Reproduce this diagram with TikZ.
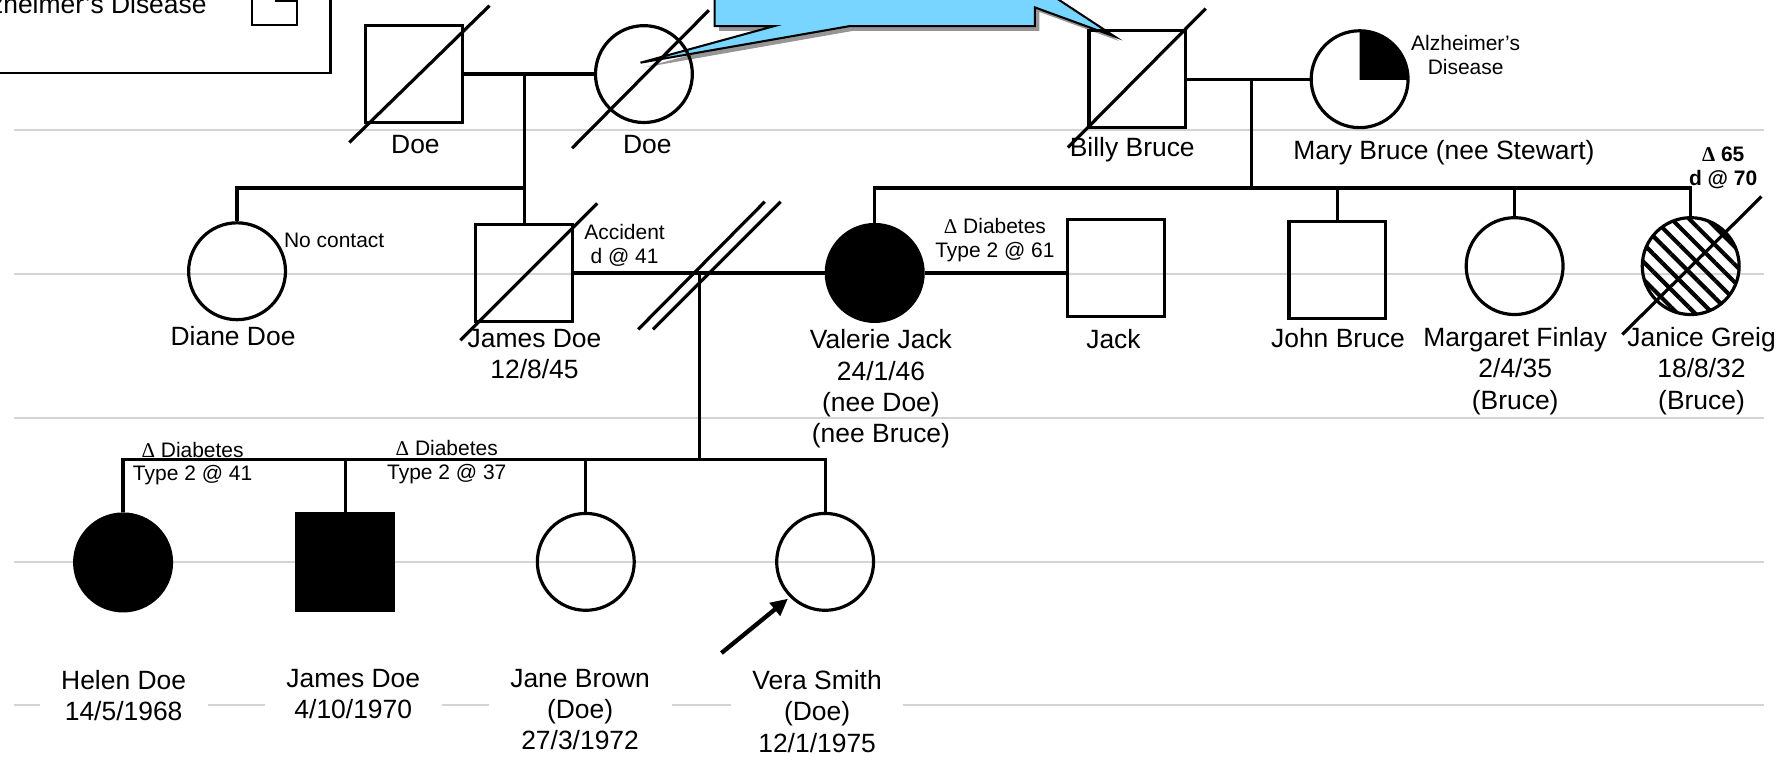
\documentclass[tikz,border=0pt]{standalone}
\usepackage{fontspec}
\setmainfont{Liberation Sans}
\newfontfamily\deltafont{Liberation Serif}
\usepackage{tikz}
\usetikzlibrary{calc, arrows.meta, patterns.meta}
\definecolor{pedgray}{RGB}{212,212,212}
\definecolor{pedblue}{RGB}{120,213,255}
\definecolor{pedshadow}{RGB}{150,150,150}
\newcommand{\namefont}{\fontsize{23.2}{27.5}\selectfont}
\newcommand{\notefont}{\fontsize{18.4}{21}\selectfont}
\newcommand{\dlt}{{\deltafont Δ}}
\tikzset{
  %% ---- people ----
  male/.style     = {rectangle, draw, line width=2.8pt, minimum size=85pt, inner sep=0pt},
  female/.style   = {circle, draw, line width=2.8pt, minimum size=85pt, inner sep=0pt},
  affected/.style = {fill=black},
  hatched/.style  = {pattern={Lines[angle=-45, distance=11pt, line width=3.6pt]}},
  %% ---- lines ----
  rel/.style      = {line width=2.8pt},
  dead/.style     = {line width=2.8pt},
  guide/.style    = {line width=1.8pt, draw=pedgray},
  proband/.style  = {-{Triangle[length=15pt, width=14pt]}, line width=3.8pt, shorten >=2pt},
  %% ---- text ----
  lbl/.style      = {font=\namefont, align=center, anchor=base, inner sep=0pt},
  note/.style     = {font=\notefont, align=center, anchor=base, inner sep=0pt},
  botlbl/.style   = {lbl, fill=white, inner xsep=19pt, inner ysep=1pt},
}

\begin{document}
\begin{tikzpicture}[x=1pt, y=-1pt]
\useasboundingbox (0,0) rectangle (1568,670);
\clip (0,0) rectangle (1568,670);
\foreach \gy in {114,240,367,493,619}
  \draw[guide] (12,\gy) -- (1548,\gy);

%% legend
\draw[line width=1.8pt] (-5,-5) rectangle (290,64);
\node[font=\namefont, anchor=base east, inner sep=0pt] (legtxt) at (181.5,11.5) {Alzheimer’s Disease};
\node[male, line width=1.8pt, minimum size=40pt] (legsq) at (241,2) {};
\fill (legsq.center) rectangle (legsq.north east);

%% callout
\fill[pedshadow, shift={(4,4)}] (627,-25) -- (627,23) -- (679,23) -- (562,55) -- (745,23) -- (908,23)
  -- (908,6.5) -- (978,32) -- (908,-14) -- (908,-25) -- cycle;
\draw[fill=pedblue, line width=1.8pt] (627,-25) -- (627,23) -- (679,23) -- (562,55) -- (745,23) -- (908,23)
  -- (908,6.5) -- (978,32) -- (908,-14) -- (908,-25) -- cycle;

%% generation I
\node[male]   (doem)  at (363.5,65) {};
\node[female] (doef)  at (565,65) {};
\node[male]   (billy) at (998,69.5) {};
\node[female] (mary)  at (1193,69.5) {};
\begin{scope}
  \clip (mary.center) rectangle ($(mary)+(50,-50)$);
  \fill (mary) circle[radius=42.5pt];
\end{scope}

%% generation II
\node[female]           (diane)    at (208,238) {};
\node[male]             (jamesd)   at (460,239.5) {};
\node[female, affected] (valerie)  at (767.5,239.5) {};
\node[male]             (jack)     at (979,235) {};
\node[male]             (john)     at (1173.5,237) {};
\node[female]           (margaret) at (1329,233.5) {};
\node[female, hatched]  (janice)   at (1483.5,233.5) {};

%% generation III
\node[female, affected] (helen)  at (108,493.5) {};
\node[male, affected]   (jamesj) at (303,493) {};
\node[female]           (jane)   at (514,493) {};
\node[female]           (vera)   at (724,493) {};

\coordinate (m1) at (460,65);
\coordinate (s1) at (460,165);
\coordinate (m2) at (1098,69.5);
\coordinate (s2) at (1098,165);
\coordinate (m3) at (613.5,239.5);
\coordinate (s3) at (613.5,403.5);
\coordinate (pb) at (633,573);

\draw[rel] (doem) -- (doef);
\draw[rel] (m1) -- (jamesd.north);
\draw[rel] (s1) -| (diane.north);
\draw[rel] (billy) -- (mary);
\draw[rel] (m2) -- (s2);
\foreach \kid in {valerie, john, margaret, janice}
  \draw[rel] (s2) -| (\kid.north);
\draw[rel] (jamesd) -- (valerie);
\draw[rel] (valerie.east) -- (valerie.east -| jack.west);
\draw[rel] (m3) -- (s3);
\foreach \kid in {helen, jamesj, jane, vera}
  \draw[rel] (s3) -| (\kid.north);
\draw[rel] (560,289) -- (671,177);
\draw[rel] (573,289) -- (685,177);

\draw[dead] ($(doem)+(-57,60)$) -- ($(doem)+(66,-60)$);
\draw[dead] ($(doef)+(-63,65)$) -- ($(doef)+(57,-56)$);
\draw[dead] ($(billy)+(-61,60)$) -- ($(billy)+(60,-62)$);
\draw[dead] ($(jamesd)+(-56,59)$) -- ($(jamesd)+(64,-61)$);
\draw[dead] ($(janice)+(-60,60)$) -- ($(janice)+(62,-61)$);

%% labels
\node[lbl] (doemlbl)  at (364.5,134.5) {Doe};
\node[lbl] (doeflbl)  at (568,134.5) {Doe};
\node[lbl] (billylbl) at (993.5,137.5) {Billy Bruce};
\node[lbl] (marylbl)  at (1267,140) {Mary Bruce (nee Stewart)};
\node[note] (alznote) at (1286,65) {Alzheimer’s\\Disease};

\node[lbl] (dianelbl)    at (204.5,303.5) {Diane Doe};
\node[note, anchor=base west] (dianenote) at (249,217.5) {No contact};
\node[lbl] (jamesdlbl)   at (469,332) {James Doe\\12/8/45};
\node[note] (jamesdnote) at (548,231) {Accident\\d @ 41};
\node[lbl] (valerielbl)  at (773,388.5) {Valerie Jack\\24/1/46\\(nee Doe)\\(nee Bruce)};
\node[note] (valerienote) at (873,225.5) {\dlt{} Diabetes\\Type 2 @ 61};
\node[lbl] (jacklbl)     at (977,306) {Jack};
\node[lbl] (johnlbl)     at (1174,305) {John Bruce};
\node[lbl] (margaretlbl) at (1329.5,359) {Margaret Finlay\\2/4/35\\(Bruce)};
\node[lbl] (janicelbl)   at (1493,359) {Janice Greig\\18/8/32\\(Bruce)};
\node[note, font=\notefont\bfseries] (janicenote) at (1512,163) {{\deltafont\bfseries Δ} 65\\d @ 70};

\node[note] (helennote)  at (169,422) {\dlt{} Diabetes\\Type 2 @ 41};
\node[note] (jamesjnote) at (392,421) {\dlt{} Diabetes\\Type 2 @ 37};
\node[botlbl] (helenlbl)  at (108.5,632.5) {Helen Doe\\14/5/1968};
\node[botlbl] (jamesjlbl) at (310,630.5) {James Doe\\4/10/1970};
\node[botlbl] (janelbl)   at (509,658) {Jane Brown\\(Doe)\\27/3/1972};
\node[botlbl] (veralbl)   at (717,660) {Vera Smith\\(Doe)\\12/1/1975};
\draw[proband] (pb) -- (vera.south west);
\end{tikzpicture}
\end{document}
